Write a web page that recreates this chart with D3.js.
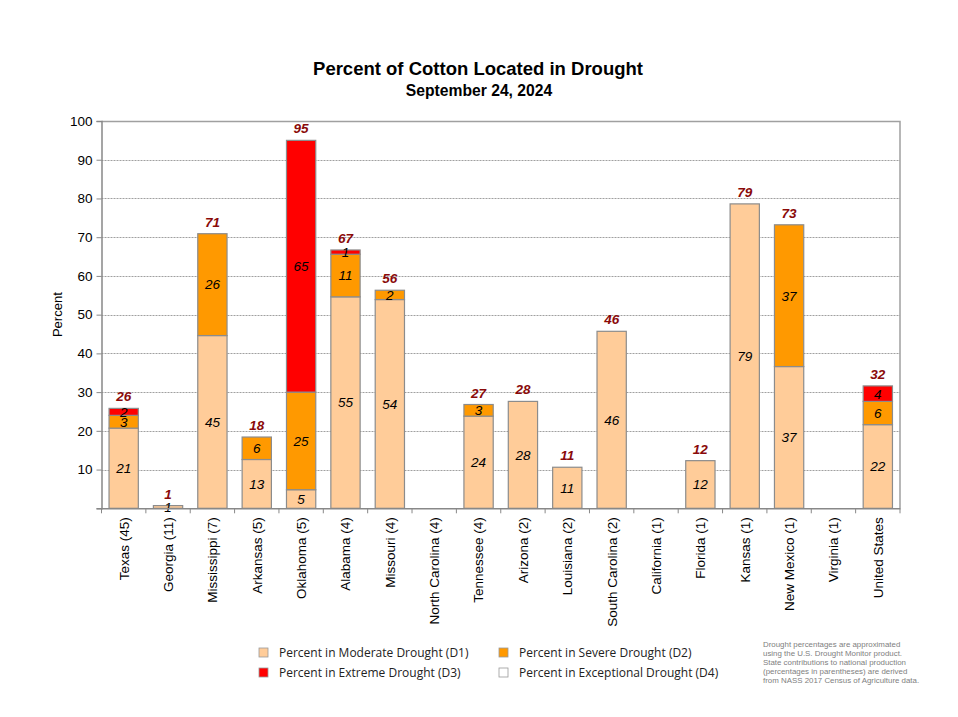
<!DOCTYPE html>
<html>
<head>
<meta charset="utf-8">
<script src="https://d3js.org/d3.v7.min.js"></script>
<style>
  body { margin: 0; background: #fff; }
  svg { display: block; }
</style>
</head>
<body>
<svg id="chart" width="958" height="717" font-family="Liberation Sans, Arial, sans-serif"></svg>
<script>
const categories = ["Texas (45)", "Georgia (11)", "Mississippi (7)", "Arkansas (5)", "Oklahoma (5)", "Alabama (4)", "Missouri (4)", "North Carolina (4)", "Tennessee (4)", "Arizona (2)", "Louisiana (2)", "South Carolina (2)", "California (1)", "Florida (1)", "Kansas (1)", "New Mexico (1)", "Virginia (1)", "United States"];
const d1 = [20.7, 0.7, 44.6, 12.6, 4.8, 54.6, 53.9, 0, 23.8, 27.6, 10.6, 45.7, 0, 12.3, 78.6, 36.6, 0, 21.6];
const d2 = [3.3, 0, 26.3, 5.8, 25.2, 11.0, 2.4, 0, 3.0, 0, 0, 0, 0, 0, 0, 36.6, 0, 6.0];
const d3v = [1.8, 0, 0, 0, 65.0, 1.1, 0, 0, 0, 0, 0, 0, 0, 0, 0, 0, 0, 4.0];
const d4 = [0, 0, 0, 0, 0, 0, 0, 0, 0, 0, 0, 0, 0, 0, 0, 0, 0, 0];
const seriesNames = ["Percent in Moderate Drought (D1)", "Percent in Severe Drought (D2)", "Percent in Extreme Drought (D3)", "Percent in Exceptional Drought (D4)"];
const seriesColors = ["#FFCC99", "#FF9900", "#FF0000", "#FFFFFF"];
const yTicks = [10, 20, 30, 40, 50, 60, 70, 80, 90, 100];
const titleText = "Percent of Cotton Located in Drought";
const subtitleText = "September 24, 2024";
const yAxisTitle = "Percent";
const footnote = ["Drought percentages are approximated", "using the U.S. Drought Monitor product.", "State contributions to national production", "(percentages in parentheses) are derived", "from NASS 2017 Census of Agriculture data."];

const svg = d3.select("#chart");
const margin = {left: 101.5, right: 900, top: 121, bottom: 508.3};

const x = d3.scaleBand().domain(categories).range([margin.left, margin.right]).paddingInner(0.34).paddingOuter(0.17);
const y = d3.scaleLinear().domain([0, 100]).range([margin.bottom, margin.top]);

// Title
svg.append("text").attr("x", 478).attr("y", 74.5).attr("text-anchor", "middle")
  .attr("font-size", 18.5).attr("font-weight", "bold").text(titleText);
svg.append("text").attr("x", 479).attr("y", 95.5).attr("text-anchor", "middle")
  .attr("font-size", 15.7).attr("font-weight", "bold").text(subtitleText);

// Gridlines
svg.append("g").selectAll("line").data(yTicks.filter(d => d < 100)).join("line")
  .attr("x1", margin.left).attr("x2", margin.right)
  .attr("y1", d => Math.round(y(d)) + 0.5).attr("y2", d => Math.round(y(d)) + 0.5)
  .attr("stroke", "#a0a0a0").attr("stroke-width", 1).attr("stroke-dasharray", "2,1");

// Plot border (top, right)
svg.append("path")
  .attr("d", `M${margin.left},${Math.round(y(100)) + 0.5}H${margin.right}V${margin.bottom}`)
  .attr("fill", "none").attr("stroke", "#a0a0a0").attr("stroke-width", 1.5);

// Y axis
const yAxis = d3.axisLeft(y).tickValues([0].concat(yTicks)).tickSize(5).tickPadding(4)
  .tickFormat(d => d === 0 ? "" : d);
const gy = svg.append("g").attr("transform", `translate(${margin.left},0)`).call(yAxis);
gy.attr("font-family", null);
gy.select(".domain").attr("stroke", "#888").attr("stroke-width", 1.5);
gy.selectAll(".tick line").attr("stroke", "#888");
gy.selectAll(".tick text").attr("font-size", 13.5).attr("fill", "#000");

// Y title
svg.append("text").attr("transform", `translate(62,${(margin.top + margin.bottom) / 2}) rotate(-90)`)
  .attr("text-anchor", "middle").attr("font-size", 13).text(yAxisTitle);

// Stacked data
const rows = categories.map((c, i) => ({cat: c, d1: d1[i], d2: d2[i], d3: d3v[i], d4: d4[i]}));
const keys = ["d1", "d2", "d3", "d4"];
const stack = d3.stack().keys(keys)(rows);

const segG = svg.append("g");
stack.forEach((layer, li) => {
  segG.selectAll(null).data(layer.filter(d => d[1] - d[0] > 0)).join("rect")
    .attr("x", d => x(d.data.cat))
    .attr("width", x.bandwidth())
    .attr("y", d => y(d[1]))
    .attr("height", d => y(d[0]) - y(d[1]))
    .attr("fill", seriesColors[li])
    .attr("stroke", "#8c8c8c").attr("stroke-width", 1.2);
});

// Segment labels
stack.forEach((layer, li) => {
  segG.selectAll(null).data(layer.filter(d => d[1] - d[0] > 0)).join("text")
    .attr("x", d => x(d.data.cat) + x.bandwidth() / 2)
    .attr("y", d => (y(d[0]) + y(d[1])) / 2)
    .attr("dy", "0.36em")
    .attr("text-anchor", "middle").attr("font-size", 13.5).attr("font-style", "italic")
    .attr("fill", "#000")
    .text(d => Math.round(d[1] - d[0]));
});

// Totals
const totals = rows.map(r => ({cat: r.cat, t: r.d1 + r.d2 + r.d3 + r.d4}));
svg.append("g").selectAll("text").data(totals.filter(d => d.t > 0)).join("text")
  .attr("x", d => x(d.cat) + x.bandwidth() / 2)
  .attr("y", d => y(d.t) - 7)
  .attr("text-anchor", "middle").attr("font-size", 13.5).attr("font-style", "italic")
  .attr("font-weight", "bold").attr("fill", "#8a0a0a")
  .text(d => Math.round(d.t));

// X axis
const xAxis = d3.axisBottom(x).tickSize(0).tickSizeOuter(0);
const gx = svg.append("g").attr("transform", `translate(0,${margin.bottom})`).call(xAxis);
gx.attr("font-family", null);
gx.select(".domain").attr("stroke", "#888").attr("stroke-width", 1.5);
gx.selectAll(".tick text")
  .attr("font-size", 13.5).attr("fill", "#000")
  .attr("text-anchor", "end")
  .attr("transform", "rotate(-90)")
  .attr("x", -9).attr("y", 0).attr("dy", "0.36em");
// boundary ticks
const step = x.step();
const boundaries = d3.range(categories.length + 1).map(i => margin.left + i * step);
gx.selectAll(".btick").data(boundaries).join("line").attr("class", "btick")
  .attr("x1", d => d).attr("x2", d => d).attr("y1", 0).attr("y2", 5)
  .attr("stroke", "#888");

// Legend
const legendPos = [[259, 648], [499, 648], [259, 668], [499, 668]];
const lg = svg.append("g").attr("font-family", "Open Sans, sans-serif");
seriesNames.forEach((n, i) => {
  const [lx, ly] = legendPos[i];
  lg.append("rect").attr("x", lx).attr("y", ly).attr("width", 9).attr("height", 9)
    .attr("fill", seriesColors[i]).attr("stroke", "#999").attr("stroke-width", 0.8);
  lg.append("text").attr("x", lx + 20).attr("y", ly + 8.5)
    .attr("font-size", 12)
    .attr("fill", "#222").text(n);
});

// Footnote
const fn = svg.append("g");
footnote.forEach((line, i) => {
  fn.append("text").attr("x", 763).attr("y", 647 + i * 9)
    .attr("font-size", 7.9).attr("fill", "#808080").text(line);
});
</script>
</body>
</html>
